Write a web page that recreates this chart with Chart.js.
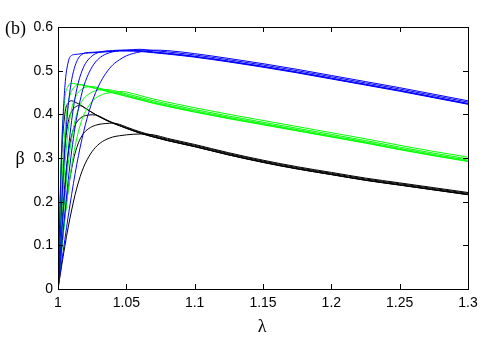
<!DOCTYPE html>
<html>
<head>
<meta charset="utf-8">
<script src="https://cdn.jsdelivr.net/npm/chart.js@4"></script>
<style>
  html, body { margin: 0; padding: 0; background: #fff; }
  #wrap { width: 503px; height: 344px; }
</style>
</head>
<body>
<div id="wrap"><canvas id="chart"></canvas></div>
<script>
// lambda grid shared by every curve
const lambda = [1, 1.0025, 1.005, 1.0075, 1.01, 1.0125, 1.015, 1.0175, 1.02, 1.025, 1.03, 1.035, 1.04, 1.045, 1.05,
                1.06, 1.07, 1.08, 1.1, 1.125, 1.15, 1.175, 1.2, 1.225, 1.25, 1.275, 1.3];

// blue family
const blue1 = [0, 0.302, 0.462, 0.520, 0.535, 0.537, 0.538, 0.539, 0.540, 0.541, 0.542, 0.543, 0.544, 0.545, 0.545,
               0.544, 0.541, 0.538, 0.531, 0.520, 0.508, 0.495, 0.481, 0.467, 0.453, 0.438, 0.423];
const blue2 = [0, 0.178, 0.322, 0.420, 0.479, 0.511, 0.529, 0.537, 0.541, 0.542, 0.543, 0.544, 0.545, 0.546, 0.546,
               0.545, 0.542, 0.539, 0.532, 0.521, 0.509, 0.496, 0.482, 0.468, 0.454, 0.439, 0.424];
const blue3 = [0, 0.118, 0.226, 0.316, 0.386, 0.438, 0.474, 0.499, 0.516, 0.534, 0.542, 0.545, 0.546, 0.547, 0.547,
               0.546, 0.543, 0.540, 0.533, 0.522, 0.510, 0.497, 0.483, 0.469, 0.455, 0.440, 0.425];
const blue4 = [0, 0.089, 0.174, 0.250, 0.316, 0.371, 0.414, 0.449, 0.475, 0.509, 0.528, 0.538, 0.543, 0.546, 0.547,
               0.549, 0.546, 0.543, 0.536, 0.525, 0.513, 0.500, 0.486, 0.472, 0.458, 0.443, 0.428];
const blue5 = [0, 0.057, 0.113, 0.167, 0.217, 0.264, 0.306, 0.343, 0.376, 0.429, 0.467, 0.494, 0.513, 0.525, 0.534,
               0.543, 0.547, 0.546, 0.539, 0.528, 0.516, 0.503, 0.489, 0.475, 0.461, 0.446, 0.431];

// green family
const green1 = [0, 0.312, 0.435, 0.465, 0.471, 0.470, 0.468, 0.467, 0.465, 0.461, 0.457, 0.453, 0.449, 0.445, 0.441,
                0.433, 0.425, 0.418, 0.405, 0.390, 0.376, 0.362, 0.348, 0.334, 0.319, 0.305, 0.292];
const green2 = [0, 0.219, 0.360, 0.427, 0.454, 0.464, 0.468, 0.468, 0.466, 0.462, 0.458, 0.454, 0.450, 0.446, 0.442,
                0.434, 0.426, 0.419, 0.406, 0.391, 0.377, 0.363, 0.349, 0.335, 0.320, 0.306, 0.293];
const green3 = [0, 0.156, 0.281, 0.364, 0.412, 0.438, 0.451, 0.458, 0.462, 0.464, 0.460, 0.456, 0.452, 0.448, 0.444,
                0.436, 0.428, 0.421, 0.408, 0.393, 0.379, 0.365, 0.351, 0.337, 0.322, 0.308, 0.295];
const green4 = [0, 0.110, 0.208, 0.287, 0.345, 0.386, 0.412, 0.430, 0.440, 0.451, 0.456, 0.457, 0.455, 0.451, 0.447,
                0.439, 0.431, 0.424, 0.411, 0.396, 0.382, 0.368, 0.354, 0.340, 0.325, 0.311, 0.298];
const green5 = [0, 0.082, 0.158, 0.225, 0.282, 0.327, 0.361, 0.388, 0.406, 0.430, 0.442, 0.448, 0.450, 0.452, 0.451,
                0.443, 0.435, 0.428, 0.415, 0.400, 0.386, 0.372, 0.358, 0.344, 0.329, 0.315, 0.302];

// black family
const black1 = [0, 0.289, 0.400, 0.426, 0.431, 0.428, 0.424, 0.419, 0.414, 0.404, 0.395, 0.387, 0.380, 0.374, 0.368,
                0.357, 0.348, 0.340, 0.326, 0.307, 0.290, 0.275, 0.262, 0.249, 0.238, 0.227, 0.216];
const black2 = [0, 0.192, 0.322, 0.383, 0.407, 0.416, 0.420, 0.419, 0.414, 0.404, 0.395, 0.387, 0.380, 0.374, 0.368,
                0.357, 0.348, 0.340, 0.326, 0.307, 0.290, 0.275, 0.262, 0.249, 0.238, 0.227, 0.216];
const black3 = [0, 0.132, 0.239, 0.310, 0.352, 0.375, 0.387, 0.394, 0.397, 0.399, 0.396, 0.388, 0.381, 0.375, 0.369,
                0.358, 0.349, 0.341, 0.327, 0.308, 0.291, 0.276, 0.263, 0.250, 0.239, 0.228, 0.217];
const black4 = [0, 0.086, 0.164, 0.228, 0.276, 0.311, 0.335, 0.351, 0.361, 0.372, 0.377, 0.379, 0.380, 0.377, 0.371,
                0.360, 0.351, 0.343, 0.329, 0.310, 0.293, 0.278, 0.265, 0.252, 0.241, 0.230, 0.219];
const black5 = [0, 0.050, 0.098, 0.142, 0.181, 0.216, 0.245, 0.269, 0.288, 0.315, 0.332, 0.342, 0.348, 0.351, 0.353,
                0.355, 0.353, 0.345, 0.331, 0.312, 0.295, 0.280, 0.267, 0.254, 0.243, 0.232, 0.221];

const xTicks = [1, 1.05, 1.1, 1.15, 1.2, 1.25, 1.3];
const yTicks = [0, 0.1, 0.2, 0.3, 0.4, 0.5, 0.6];

const families = [
    { color: '#0000ff', curves: [blue1, blue2, blue3, blue4, blue5] },
    { color: '#00ff00', curves: [green1, green2, green3, green4, green5] },
    { color: '#000000', curves: [black1, black2, black3, black4, black5] }
];

const datasets = [];
families.forEach(fam => {
    fam.curves.forEach(ys => {
        datasets.push({
            data: lambda.map((x, i) => ({ x, y: ys[i] })),
            borderColor: fam.color,
            borderWidth: 1,
            pointRadius: 0,
            fill: false,
            cubicInterpolationMode: 'monotone'
        });
    });
});

// box around the plot with inward ticks, plus panel letter and axis symbols
const frame = {
    id: 'frame',
    afterDraw(chart) {
        const { ctx, chartArea: a, scales } = chart;
        const len = 5;
        ctx.save();
        ctx.strokeStyle = '#000';
        ctx.lineWidth = 1;
        ctx.strokeRect(a.left + 0.5, a.top + 0.5, a.right - a.left, a.bottom - a.top);
        ctx.beginPath();
        xTicks.forEach(v => {
            const px = Math.round(scales.x.getPixelForValue(v)) + 0.5;
            ctx.moveTo(px, a.bottom); ctx.lineTo(px, a.bottom - len);
            ctx.moveTo(px, a.top); ctx.lineTo(px, a.top + len);
        });
        yTicks.forEach(v => {
            const py = Math.round(scales.y.getPixelForValue(v)) + 0.5;
            ctx.moveTo(a.left, py); ctx.lineTo(a.left + len, py);
            ctx.moveTo(a.right, py); ctx.lineTo(a.right - len, py);
        });
        ctx.stroke();

        ctx.fillStyle = '#000';
        ctx.textBaseline = 'alphabetic';
        ctx.font = '18px "Liberation Serif"';
        ctx.fillText('(b)', 5, 34);
        ctx.textAlign = 'center';
        ctx.fillText('β', 20, 164);
        ctx.fillText('λ', 262, 332);
        ctx.restore();
    }
};

new Chart(document.getElementById('chart'), {
    type: 'line',
    data: { datasets },
    options: {
        responsive: true,
        maintainAspectRatio: false,
        animation: false,
        layout: { padding: { left: 0, top: 27, right: 35, bottom: 0 } },
        plugins: { legend: { display: false }, tooltip: { enabled: false } },
        scales: {
            x: {
                type: 'linear',
                min: 1,
                max: 1.3,
                afterBuildTicks: s => { s.ticks = xTicks.map(value => ({ value })); },
                afterFit: s => { s.height = 55; },
                grid: { display: false, drawTicks: false },
                border: { display: false },
                ticks: {
                    padding: 6,
                    color: '#000',
                    font: { family: 'Liberation Sans', size: 14 },
                    maxRotation: 0,
                    callback: v => String(+v.toFixed(2))
                }
            },
            y: {
                type: 'linear',
                min: 0,
                max: 0.6,
                afterBuildTicks: s => { s.ticks = yTicks.map(value => ({ value })); },
                afterFit: s => { s.width = 58; },
                grid: { display: false, drawTicks: false },
                border: { display: false },
                ticks: {
                    padding: 5,
                    color: '#000',
                    font: { family: 'Liberation Sans', size: 14 },
                    callback: v => String(+v.toFixed(1))
                }
            }
        }
    },
    plugins: [frame]
});
</script>
</body>
</html>
